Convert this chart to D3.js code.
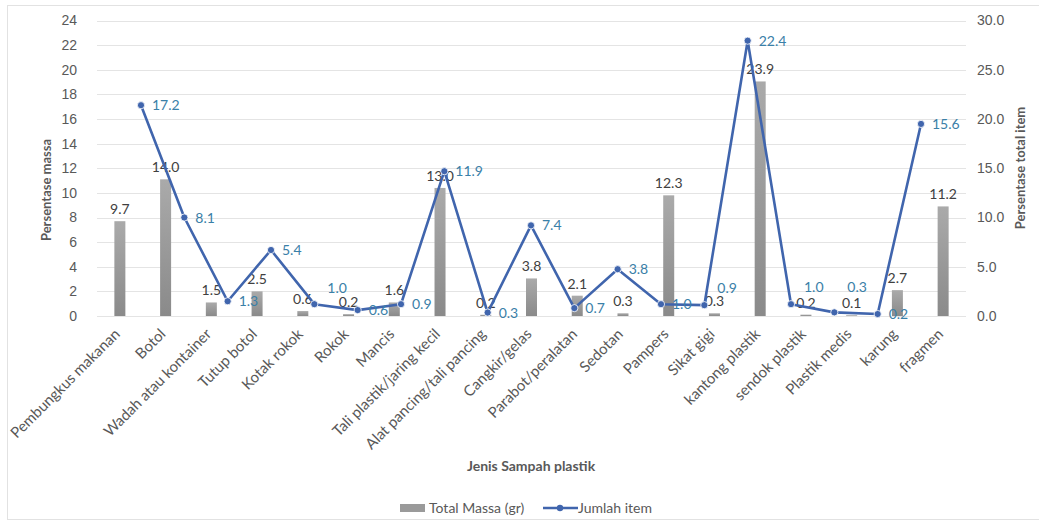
<!DOCTYPE html>
<html>
<head>
<meta charset="utf-8">
<script src="https://cdn.jsdelivr.net/npm/d3@7"></script>
<style>
  body { margin: 0; background: #fff; }
  svg { font-family: Lato, "Open Sans", sans-serif; }
</style>
</head>
<body>
<svg id="chart" width="1039" height="523"></svg>
<script>
// categories (Jenis sampah plastik)
const categories = ['Pembungkus makanan', 'Botol', 'Wadah atau kontainer', 'Tutup botol', 'Kotak rokok',
  'Rokok', 'Mancis', 'Tali plastik/jaring kecil', 'Alat pancing/tali pancing', 'Cangkir/gelas',
  'Parabot/peralatan', 'Sedotan', 'Pampers', 'Sikat gigi', 'kantong plastik', 'sendok plastik',
  'Plastik medis', 'karung', 'fragmen'];

// bar heights as drawn on the left axis, and the labels printed over them
const massaBar = [7.7, 11.1, 1.1, 2.0, 0.4, 0.15, 1.1, 10.4, 0.1, 3.05, 1.65, 0.22, 9.8, 0.22, 19.05, 0.11, 0.06, 2.1, 8.9];
const massaLabel = [9.7, 14.0, 1.5, 2.5, 0.6, 0.2, 1.6, 13.0, 0.2, 3.8, 2.1, 0.3, 12.3, 0.3, 23.9, 0.2, 0.1, 2.7, 11.2];

// line points as drawn on the right axis, and their printed labels
const itemPlot = [21.4, 10.0, 1.5, 6.7, 1.2, 0.6, 1.2, 14.7, 0.35, 9.2, 0.8, 4.75, 1.2, 1.1, 27.95, 1.2, 0.37, 0.2, 19.5];
const itemLabel = [17.2, 8.1, 1.3, 5.4, 1.0, 0.6, 0.9, 11.9, 0.3, 7.4, 0.7, 3.8, 1.0, 0.9, 22.4, 1.0, 0.3, 0.2, 15.6];

const leftTicks = [0, 2, 4, 6, 8, 10, 12, 14, 16, 18, 20, 22, 24];
const rightTicks = [0, 5, 10, 15, 20, 25, 30];

// line labels that were nudged upward in the original
const raised = {'Kotak rokok': -16, 'Sikat gigi': -17, 'sendok plastik': -17, 'Plastik medis': -25};

const svg = d3.select('#chart');
const plot = {left: 97, right: 966, top: 20.5, bottom: 316};

const x = d3.scaleBand().domain(categories).range([plot.left, plot.right]);
const xLine = d3.scalePoint().domain(categories).range([141, 921]);
const yL = d3.scaleLinear().domain([0, 24]).range([plot.bottom, plot.top]);
const yR = d3.scaleLinear().domain([0, 30]).range([plot.bottom, plot.top]);

const gray = '#595959';
const lineCol = '#4065ad';
const lineLblCol = '#3a80a8';
const fmt = d3.format('.1f');

// outer frame
svg.append('rect').attr('x', 7.5).attr('y', 5.5).attr('width', 1040).attr('height', 514)
  .attr('fill', 'none').attr('stroke', '#e2e2e2');

const defs = svg.append('defs');
const grad = defs.append('linearGradient').attr('id', 'barGrad')
  .attr('x1', 0).attr('y1', 0).attr('x2', 0).attr('y2', 1);
grad.append('stop').attr('offset', '0%').attr('stop-color', '#aaaaaa');
grad.append('stop').attr('offset', '100%').attr('stop-color', '#8a8a8a');

// gridlines
svg.append('g').selectAll('line').data(leftTicks).join('line')
  .attr('x1', plot.left).attr('x2', plot.right)
  .attr('y1', d => Math.round(yL(d)) + 0.5).attr('y2', d => Math.round(yL(d)) + 0.5)
  .attr('stroke', '#e4e4e4').attr('stroke-width', 1);

// left axis
const axL = svg.append('g').attr('transform', `translate(${plot.left},0)`)
  .call(d3.axisLeft(yL).tickValues(leftTicks).tickSize(0).tickPadding(20));
axL.select('.domain').remove();
axL.selectAll('text').attr('fill', gray).style('font-size', '14px');

// right axis
const axR = svg.append('g').attr('transform', `translate(${plot.right},0)`)
  .call(d3.axisRight(yR).tickValues(rightTicks).tickFormat(fmt).tickSize(0).tickPadding(11));
axR.select('.domain').remove();
axR.selectAll('text').attr('fill', gray).style('font-size', '14px');

// bars
const bw = 11;
svg.append('g').selectAll('rect').data(categories).join('rect')
  .attr('x', d => x(d) + x.bandwidth() / 2 - bw / 2)
  .attr('width', bw)
  .attr('y', (d, i) => yL(massaBar[i]))
  .attr('height', (d, i) => yL(0) - yL(massaBar[i]))
  .attr('fill', 'url(#barGrad)');

// bar labels
svg.append('g').selectAll('text').data(categories).join('text')
  .attr('x', d => x(d) + x.bandwidth() / 2)
  .attr('y', (d, i) => yL(massaBar[i]) - 7)
  .attr('text-anchor', 'middle')
  .attr('fill', '#404040').style('font-size', '14px')
  .text((d, i) => fmt(massaLabel[i]));

// line
const line = d3.line().x(d => xLine(d)).y((d, i) => yR(itemPlot[i]));
svg.append('path').datum(categories).attr('d', line)
  .attr('fill', 'none').attr('stroke', lineCol).attr('stroke-width', 2.6).attr('stroke-linejoin', 'round');
svg.append('g').selectAll('circle').data(categories).join('circle')
  .attr('cx', d => xLine(d)).attr('cy', (d, i) => yR(itemPlot[i])).attr('r', 3.6)
  .attr('fill', lineCol).attr('stroke', '#fff').attr('stroke-width', 0.8);

svg.append('g').selectAll('text').data(categories).join('text')
  .attr('x', d => xLine(d) + (raised[d] ? 13 : 11))
  .attr('y', (d, i) => yR(itemPlot[i]) + 5 + (raised[d] || 0))
  .attr('fill', lineLblCol).style('font-size', '14px')
  .text((d, i) => fmt(itemLabel[i]));

// category labels
svg.append('g').selectAll('text').data(categories).join('text')
  .attr('transform', d => `translate(${x(d) + x.bandwidth() / 2 + 1},${plot.bottom + 19}) rotate(-45)`)
  .attr('text-anchor', 'end')
  .attr('fill', gray).style('font-size', '15px')
  .text(d => d);

// axis titles
svg.append('text').attr('transform', 'translate(51,190) rotate(-90)')
  .attr('text-anchor', 'middle').attr('fill', gray).style('font-size', '13px').style('font-weight', 'bold')
  .text('Persentase massa');
svg.append('text').attr('transform', 'translate(1025,168) rotate(-90)')
  .attr('text-anchor', 'middle').attr('fill', gray).style('font-size', '13px').style('font-weight', 'bold')
  .text('Persentase total item');
svg.append('text').attr('x', 531).attr('y', 471)
  .attr('text-anchor', 'middle').attr('fill', gray).style('font-size', '14px').style('font-weight', 'bold')
  .text('Jenis Sampah plastik');

// legend
const lg = svg.append('g');
lg.append('rect').attr('x', 400).attr('y', 504).attr('width', 25).attr('height', 8).attr('fill', '#9a9a9a');
lg.append('text').attr('x', 429).attr('y', 513).attr('fill', gray).style('font-size', '14px').text('Total Massa (gr)');
lg.append('line').attr('x1', 543).attr('x2', 578).attr('y1', 508).attr('y2', 508)
  .attr('stroke', lineCol).attr('stroke-width', 2.6);
lg.append('circle').attr('cx', 560).attr('cy', 508).attr('r', 3.2).attr('fill', lineCol);
lg.append('text').attr('x', 578).attr('y', 513).attr('fill', gray).style('font-size', '14px').text('Jumlah item');
</script>
</body>
</html>
